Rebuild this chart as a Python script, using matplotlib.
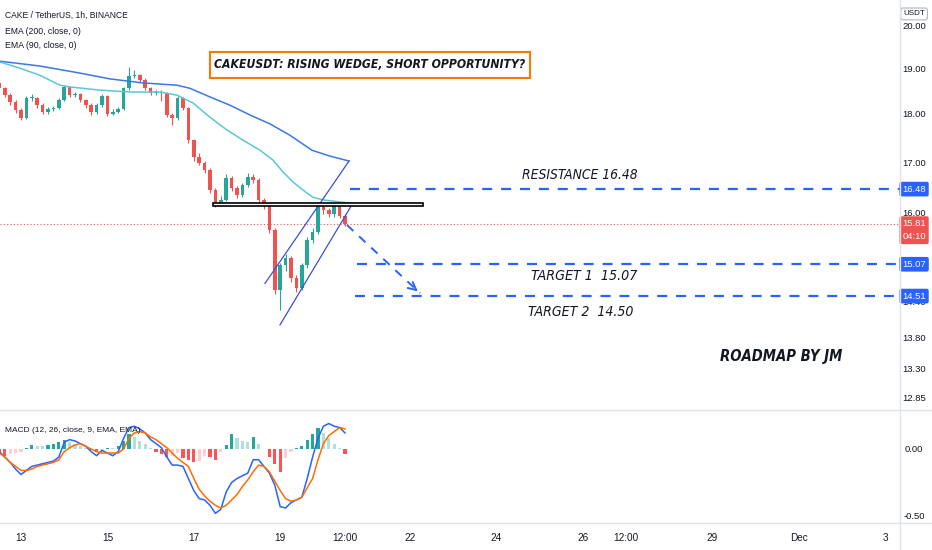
import numpy as np
import pandas as pd
import matplotlib
matplotlib.use("Agg")
import matplotlib.pyplot as plt
import matplotlib.dates as mdates
from matplotlib.patches import Rectangle
from matplotlib.lines import Line2D
from matplotlib import font_manager
from datetime import datetime

# === DATOS (velas de 3h, CAKE/USDT) ===
start_time = "2021-11-12 12:00"
first_open = 18.70
closes = [18.58, 18.43, 18.28, 18.11, 17.93, 18.37, 18.37, 18.21, 18.06, 18.13,
          18.15, 18.32, 18.61, 18.43, 18.45, 18.32, 18.21, 18.06, 18.21, 18.41,
          18.02, 18.06, 18.13, 18.58, 18.85, 18.87, 18.76, 18.58, 18.48, 18.50,
          18.48, 18.00, 17.93, 18.37, 18.15, 17.47, 17.12, 17.00, 16.86, 16.46,
          16.21, 16.27, 16.70, 16.50, 16.36, 16.56, 16.72, 16.66, 16.27, 16.17,
          15.70, 14.61, 15.05, 15.18, 14.82, 14.65, 15.05, 15.51, 15.66, 16.17,
          16.07, 15.99, 16.15, 15.96, 15.81]
highs = [18.76, 18.62, 18.47, 18.32, 18.15, 18.42, 18.45, 18.40, 18.25, 18.18,
         18.20, 18.36, 18.66, 18.64, 18.50, 18.48, 18.35, 18.25, 18.25, 18.46,
         18.44, 18.12, 18.18, 18.62, 19.06, 18.98, 18.90, 18.80, 18.62, 18.55,
         18.54, 18.50, 18.05, 18.42, 18.40, 18.18, 17.50, 17.20, 17.05, 16.90,
         16.50, 16.35, 16.78, 16.74, 16.55, 16.60, 16.80, 16.78, 16.70, 16.30,
         16.20, 15.74, 15.10, 15.25, 15.22, 14.88, 15.10, 15.56, 15.74, 16.23,
         16.22, 16.12, 16.21, 16.18, 15.99]
lows = [18.52, 18.38, 18.22, 18.05, 17.89, 17.91, 18.30, 18.16, 18.02, 18.03,
        18.08, 18.12, 18.30, 18.38, 18.40, 18.28, 18.16, 18.00, 18.03, 18.18,
        17.98, 17.99, 18.04, 18.10, 18.55, 18.80, 18.72, 18.54, 18.44, 18.44,
        18.30, 17.95, 17.79, 17.90, 18.10, 17.42, 17.05, 16.95, 16.80, 16.40,
        16.13, 16.15, 16.24, 16.45, 16.30, 16.32, 16.52, 16.60, 16.22, 16.10,
        15.65, 14.55, 14.27, 14.95, 14.76, 14.58, 14.62, 15.00, 15.45, 15.62,
        16.00, 15.94, 15.95, 15.92, 15.78]

# EMAs (dias desde 12-nov 00:00)
ema200_days = [0.514, 1.440, 2.366, 3.060, 3.824, 4.611, 4.912, 5.375, 5.838, 6.301,
               6.764, 7.227, 7.736, 8.153, 8.593]
ema200_vals = [19.19, 19.08, 18.92, 18.79, 18.70, 18.65, 18.58, 18.39, 18.21, 18.00,
               17.81, 17.57, 17.26, 17.14, 17.04]
ema90_days = [0.514, 0.977, 1.440, 1.903, 2.134, 2.829, 3.523, 4.218, 4.611, 4.981,
              5.375, 5.769, 6.139, 6.532, 6.833, 7.065, 7.296, 7.528, 7.759, 7.991,
              8.384, 8.616]
ema90_vals = [19.17, 19.03, 18.87, 18.65, 18.61, 18.54, 18.50, 18.50, 18.43, 18.26,
              17.95, 17.68, 17.47, 17.26, 17.06, 16.82, 16.62, 16.46, 16.32, 16.27,
              16.23, 16.21]

# MACD (mismo grid de 3h)
macd_vals = [-0.02, -0.06, -0.10, -0.15, -0.19, -0.16, -0.13, -0.12, -0.11, -0.10,
             -0.09, -0.06, 0.05, 0.07, 0.06, 0.04, 0.02, -0.02, -0.05, -0.01,
             -0.03, -0.05, -0.02, 0.08, 0.16, 0.17, 0.15, 0.12, 0.07, 0.04,
             0.01, -0.06, -0.12, -0.12, -0.13, -0.22, -0.31, -0.37, -0.38, -0.42,
             -0.48, -0.45, -0.32, -0.25, -0.22, -0.20, -0.18, -0.08, -0.08, -0.13,
             -0.18, -0.27, -0.43, -0.44, -0.40, -0.38, -0.36, -0.22, -0.06, 0.08,
             0.17, 0.19, 0.17, 0.16, 0.12]
signal_vals = [-0.03, -0.06, -0.10, -0.13, -0.16, -0.16, -0.15, -0.13, -0.12, -0.11,
               -0.10, -0.08, -0.02, 0.01, 0.03, 0.04, 0.02, 0.00, -0.02, -0.03,
               -0.03, -0.03, -0.03, 0.00, 0.08, 0.12, 0.13, 0.12, 0.09, 0.07,
               0.04, 0.01, -0.03, -0.07, -0.10, -0.13, -0.22, -0.30, -0.35, -0.39,
               -0.42, -0.44, -0.42, -0.38, -0.34, -0.28, -0.23, -0.17, -0.12, -0.13,
               -0.17, -0.24, -0.31, -0.37, -0.39, -0.38, -0.36, -0.29, -0.22, -0.08,
               0.04, 0.10, 0.13, 0.16, 0.15]
hist_vals = [-0.04, -0.05, -0.04, -0.03, -0.02, 0.01, 0.03, 0.02, 0.02, 0.03,
             0.04, 0.05, 0.07, 0.05, 0.04, 0.02, 0.01, -0.01, -0.02, -0.01,
             0.01, 0.01, 0.02, 0.06, 0.11, 0.09, 0.06, 0.04, 0.01, -0.02,
             -0.04, -0.06, -0.05, -0.03, -0.07, -0.08, -0.10, -0.09, -0.05, -0.06,
             -0.08, -0.02, 0.03, 0.11, 0.08, 0.06, 0.05, 0.09, 0.04, 0.00,
             -0.06, -0.11, -0.17, -0.07, -0.02, 0.01, 0.02, 0.07, 0.11, 0.16,
             0.12, 0.08, 0.04, 0.01, -0.04]

price_ticks = [20.00, 19.00, 18.00, 17.00, 16.00, 14.40, 13.80, 13.30, 12.85]
macd_ticks = [0.00, -0.50]
time_tick_days = [1, 3, 5, 7, 8.5, 10, 12, 14, 15, 17, 19, 21]
time_tick_labels = ["13", "15", "17", "19", "12:00", "22", "24", "26", "12:00", "29", "Dec", "3"]

# niveles dibujados
resistance = 16.48
target1 = 15.07
target2 = 14.51
last_price = 15.81
countdown = "04:10"
level_start_days = [8.616, 8.778, 8.731]
wedge_up_days, wedge_up_vals = [6.648, 8.593], [14.73, 17.04]
wedge_lo_days, wedge_lo_vals = [6.995, 8.685], [14.02, 16.21]
zone_days, zone_vals = [5.444, 10.306], [16.15, 16.21]
arrow_days, arrow_vals = [8.546, 10.236], [15.79, 14.56]

# === ESTILO / FUENTES ===
entries = font_manager.fontManager.ttflist
names = {f.name for f in entries}
if "Liberation Sans Narrow" in names:
    NOTE_FAM = ["Liberation Sans Narrow", "DejaVu Sans"]
elif any("DejaVuSansCondensed" in f.fname for f in entries):
    NOTE_FAM = ["DejaVu Sans"]
else:
    NOTE_FAM = ["Liberation Sans", "DejaVu Sans"]
plt.rcParams["font.family"] = ["Liberation Sans", "DejaVu Sans"]
TXT = "#131722"
UP, DOWN = "#26a69a", "#ef5350"
BLUE = "#2962ff"

base = mdates.date2num(datetime(2021, 11, 12))
def dn(d):
    return base + np.asarray(d, dtype=float)

x = mdates.date2num(pd.date_range(start_time, periods=len(closes), freq="3h").to_pydatetime())
opens = [first_open] + closes[:-1]
xlim = (dn(0.514), dn(21.347))

W, H = 932, 550
fig = plt.figure(figsize=(W / 100, H / 100), dpi=100)
fig.patch.set_facecolor("white")
ax = fig.add_axes([0, 140 / H, 900 / W, 410 / H])
ax_p = fig.add_axes([900 / W, 140 / H, 32 / W, 410 / H])
ax_m = fig.add_axes([0, 27 / H, 900 / W, 113 / H])
ax_mr = fig.add_axes([900 / W, 27 / H, 32 / W, 113 / H])

for a in (ax, ax_p):
    a.set_yscale("log")
    a.set_ylim(12.67, 20.64)
for a in (ax_m, ax_mr):
    a.set_ylim(-0.552, 0.291)
for a in (ax, ax_m):
    a.set_xlim(*xlim)
for a in (ax, ax_p, ax_m, ax_mr):
    for s in a.spines.values():
        s.set_visible(False)
    a.set_facecolor("none")
for a in (ax_p, ax_mr):
    a.set_xlim(0, 1)
    a.axis("off")
ax.tick_params(left=False, labelleft=False, bottom=False, labelbottom=False)
ax.yaxis.set_minor_locator(matplotlib.ticker.NullLocator())
ax.yaxis.set_major_locator(matplotlib.ticker.NullLocator())
ax_m.tick_params(left=False, labelleft=False)

# === VELAS ===
for xi, o, h, l, c in zip(x, opens, highs, lows, closes):
    col = UP if c >= o else DOWN
    ax.vlines(xi, l, h, color=col, lw=0.8, zorder=3)
    ax.bar(xi, max(abs(c - o), 0.01), bottom=min(o, c), width=0.085, color=col, zorder=3)

ax.plot(dn(ema200_days), ema200_vals, color="#3b78e7", lw=1.1, zorder=4)
ax.plot(dn(ema90_days), ema90_vals, color="#5cc6d9", lw=1.1, zorder=4)

# precio actual
ax.axhline(last_price, color=DOWN, lw=0.8, ls=(0, (1, 2)), zorder=2)

# cuña
ax.plot(dn(wedge_up_days), wedge_up_vals, color="#3a4fd8", lw=0.9, zorder=5)
ax.plot(dn(wedge_lo_days), wedge_lo_vals, color="#3a4fd8", lw=0.9, zorder=5)

# zona negra
ax.add_patch(Rectangle((dn(zone_days[0]), zone_vals[0]), zone_days[1] - zone_days[0],
                       zone_vals[1] - zone_vals[0], fc="white", ec="black", lw=1.2, zorder=6))

# niveles discontinuos
for lvl, d0 in zip([resistance, target1, target2], level_start_days):
    ax.hlines(lvl, dn(d0), xlim[1], color=BLUE, lw=1.6, ls=(0, (4.5, 4)), zorder=5)

# flecha
ax.plot(dn(arrow_days), arrow_vals, color=BLUE, lw=1.4, ls=(0, (4.5, 4)), zorder=5)
ax.annotate("", xy=(dn(arrow_days[1]), arrow_vals[1]),
            xytext=(dn(arrow_days[1]) - 0.15, arrow_vals[1] * 1.0065),
            arrowprops=dict(arrowstyle="->", color=BLUE, lw=1.4, mutation_scale=14), zorder=5)

# caja del titulo (naranja)
ax.add_patch(Rectangle((0.2333, 0.8098), 0.3556, 0.0634, transform=ax.transAxes,
                       fc="white", ec="#f57c00", lw=1.5, zorder=7))

# textos con ancho objetivo (px) medido en la referencia
fit_list = []
def note(txt, xf, yf, width_px, bold=False, italic=True, ha="center", fam=None, **kw):
    t = ax.text(xf, yf, txt, transform=ax.transAxes, fontsize=11, color=TXT, ha=ha, va="center",
                fontweight="bold" if bold else "normal", fontstyle="italic" if italic else "normal",
                family=fam or NOTE_FAM, fontstretch="condensed", **kw)
    fit_list.append((t, width_px))
    return t

note("CAKE / TetherUS, 1h, BINANCE", 0.0056, 0.963, 122, italic=False, ha="left",
     fam=["Liberation Sans", "DejaVu Sans"])
note("EMA (200, close, 0)", 0.0056, 0.922, 75, italic=False, ha="left",
     fam=["Liberation Sans", "DejaVu Sans"])
note("EMA (90, close, 0)", 0.0056, 0.888, 71, italic=False, ha="left",
     fam=["Liberation Sans", "DejaVu Sans"])
note("CAKEUSDT: RISING WEDGE, SHORT OPPORTUNITY?", 0.4111, 0.8415, 310, bold=True, zorder=8)
note(f"RESISTANCE {resistance:.2f}", 0.6439, 0.5732, 115)
note(f"TARGET 1  {target1:.2f}", 0.6489, 0.3268, 106)
note("TARGET 2  14.50", 0.6456, 0.2390, 105)
note("ROADMAP BY JM", 0.8678, 0.1293, 122, bold=True)

# === ESCALA DE PRECIO ===
for t in price_ticks:
    ax_p.text(0.44, t, f"{t:.2f}", fontsize=6.8, color=TXT, ha="center", va="center", zorder=1)
for lvl in [resistance, target1, target2]:
    ax_p.text(0.44, lvl, f"{lvl:.2f}", fontsize=6.8, color="white", ha="center", va="center",
              bbox=dict(boxstyle="round,pad=0.3,rounding_size=0.2", fc=BLUE, ec="none"), zorder=3)
ax_p.annotate(f"{last_price:.2f}\n{countdown}", xy=(0.44, last_price), xytext=(0, 3.5),
              textcoords="offset points", fontsize=6.8, color="white", ha="center", va="top",
              linespacing=1.6,
              bbox=dict(boxstyle="round,pad=0.3,rounding_size=0.2", fc="#ef5350", ec="none"), zorder=3)
ax_p.text(0.44, 0.966, "USDT", transform=ax_p.transAxes, fontsize=5.8, color=TXT, ha="center",
          va="center", bbox=dict(boxstyle="round,pad=0.3", fc="white", ec="#b2b5be", lw=0.8))

# === MACD ===
hist_colors = []
prev = 0.0
for h in hist_vals:
    if h >= 0:
        hist_colors.append("#26a69a" if h > prev else "#b2dfdb")
    else:
        hist_colors.append("#ff5252" if h < prev else "#ffcdd2")
    prev = h
ax_m.bar(x, hist_vals, width=0.07, color=hist_colors, zorder=2)
ax_m.plot(x, macd_vals, color=BLUE, lw=1.1, zorder=3)
ax_m.plot(x, signal_vals, color="#ff6d00", lw=1.1, zorder=3)
macd_lbl = ax_m.text(0.0056, 0.82, "MACD (12, 26, close, 9, EMA, EMA)", transform=ax_m.transAxes,
                     fontsize=7.5, color=TXT, va="center", zorder=4)
for t in macd_ticks:
    ax_mr.text(0.44, t, f"{t:.2f}", fontsize=6.8, color=TXT, ha="center", va="center")

ax_m.set_xticks(dn(time_tick_days))
ax_m.set_xticklabels(time_tick_labels)
ax_m.tick_params(axis="x", length=0, pad=7, labelsize=7.2, labelcolor=TXT)

# separadores
for yy in [410, 523]:
    fig.add_artist(Line2D([0, 1], [1 - yy / H] * 2, transform=fig.transFigure, color="#e0e3eb", lw=1))
fig.add_artist(Line2D([900 / W] * 2, [0, 1], transform=fig.transFigure, color="#e0e3eb", lw=1))

# ajustar tamaño de texto al ancho medido
fit_list.append((macd_lbl, 134))
renderer = fig.canvas.get_renderer()
for t, wpx in fit_list:
    w = t.get_window_extent(renderer).width
    t.set_fontsize(t.get_fontsize() * wpx / w)

fig.savefig("out.png", dpi=100, facecolor="white")
